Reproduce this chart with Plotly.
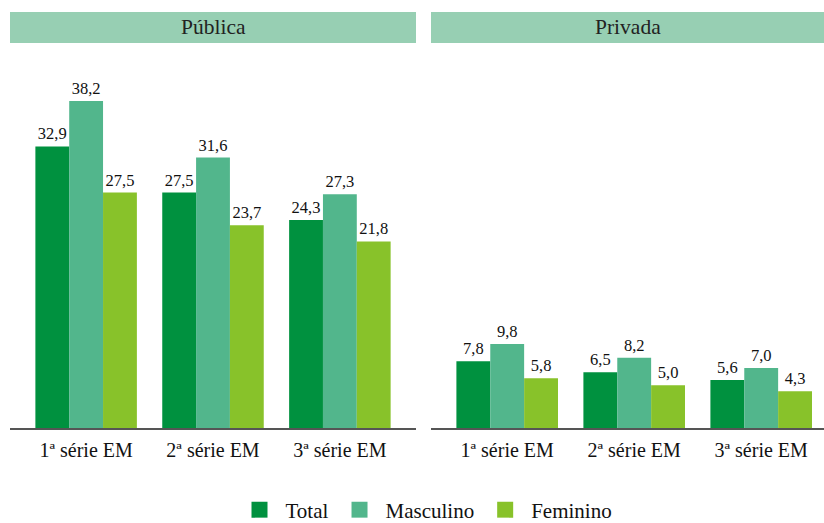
import plotly.graph_objects as go

categories = ["1ª série EM", "2ª série EM", "3ª série EM"]
panels = ["Pública", "Privada"]
series_names = ["Total", "Masculino", "Feminino"]
publica_total = [32.9, 27.5, 24.3]
publica_masc = [38.2, 31.6, 27.3]
publica_fem = [27.5, 23.7, 21.8]
privada_total = [7.8, 6.5, 5.6]
privada_masc = [9.8, 8.2, 7.0]
privada_fem = [5.8, 5.0, 4.3]

colors = ["#00913f", "#52b68c", "#88c22a"]
FONT = "Liberation Serif"

fig = go.Figure()
data = {
    "x": [publica_total, publica_masc, publica_fem],
    "x2": [privada_total, privada_masc, privada_fem],
}
for xa, ya in (("x", "y"), ("x2", "y2")):
    for i, name in enumerate(series_names):
        vals = data[xa][i]
        fig.add_trace(go.Bar(
            x=categories, y=vals, name=name, xaxis=xa, yaxis=ya,
            marker=dict(color=colors[i], line=dict(width=0)),
            text=[f"{v:.1f}".replace(".", ",") for v in vals],
            textposition="outside", cliponaxis=False,
            textfont=dict(family=FONT, size=16.5, color="#111"),
            showlegend=False, hoverinfo="skip",
        ))

# legend entries
for i, name in enumerate(series_names):
    fig.add_trace(go.Scatter(
        x=[None], y=[None], mode="markers", name=name,
        marker=dict(symbol="square", size=16, color=colors[i]),
        xaxis="x", yaxis="y", showlegend=True,
    ))

W, H = 824, 523
ml, mr, mt, mb = 10, 0, 50, 95
pw = W - ml - mr
ph = H - mt - mb
plot_bottom = H - mb
px_per_unit = 8.56
ymax = ph / px_per_unit

def px_to_xpaper(px):
    return (px - ml) / pw

def px_to_ypaper(py):
    return (plot_bottom - py) / ph

left_dom = [0, px_to_xpaper(416)]
right_dom = [px_to_xpaper(431), 1]
right_units = (824 - 431) / 127.0

axis_common = dict(
    showgrid=False, zeroline=False, showline=True, linecolor="#555555", linewidth=1.5,
    ticks="", automargin=False, ticklabelstandoff=3,
    tickfont=dict(family=FONT, size=20, color="#111"),
)
fig.update_layout(
    width=W, height=H,
    margin=dict(l=ml, r=mr, t=mt, b=mb, pad=0, autoexpand=False),
    paper_bgcolor="white", plot_bgcolor="white",
    barmode="group", bargap=0.2, bargroupgap=0,
    separators=",.",
    font=dict(family=FONT, color="#111"),
    xaxis=dict(domain=left_dom, range=[-0.6, 2.6], anchor="y", **axis_common),
    xaxis2=dict(domain=right_dom, range=[-0.6, -0.6 + right_units], anchor="y2", **axis_common),
    yaxis=dict(range=[0, ymax], visible=False, domain=[0, 1], anchor="x"),
    yaxis2=dict(range=[0, ymax], visible=False, domain=[0, 1], anchor="x2"),
    legend=dict(
        orientation="h", x=px_to_xpaper(425.5), xanchor="center",
        y=px_to_ypaper(510), yanchor="middle",
        font=dict(family=FONT, size=21, color="#111"),
        itemsizing="trace", bgcolor="rgba(0,0,0,0)", itemwidth=42,
    ),
    showlegend=True,
)

header_y0 = px_to_ypaper(43)
header_y1 = px_to_ypaper(12)
for dom, title in ((left_dom, panels[0]), (right_dom, panels[1])):
    fig.add_shape(type="rect", xref="paper", yref="paper",
                  x0=dom[0], x1=dom[1], y0=header_y0, y1=header_y1,
                  fillcolor="#97cfb3", line=dict(width=0), layer="below")
    fig.add_annotation(text=title, xref="paper", yref="paper",
                       x=(dom[0] + dom[1]) / 2, y=(header_y0 + header_y1) / 2,
                       showarrow=False, xanchor="center", yanchor="middle",
                       font=dict(family=FONT, size=21.5, color="#222"))

fig.write_html(
    "out.html",
    config={"displayModeBar": False},
    post_script="document.body.style.margin='0';document.body.style.padding='0';",
)
